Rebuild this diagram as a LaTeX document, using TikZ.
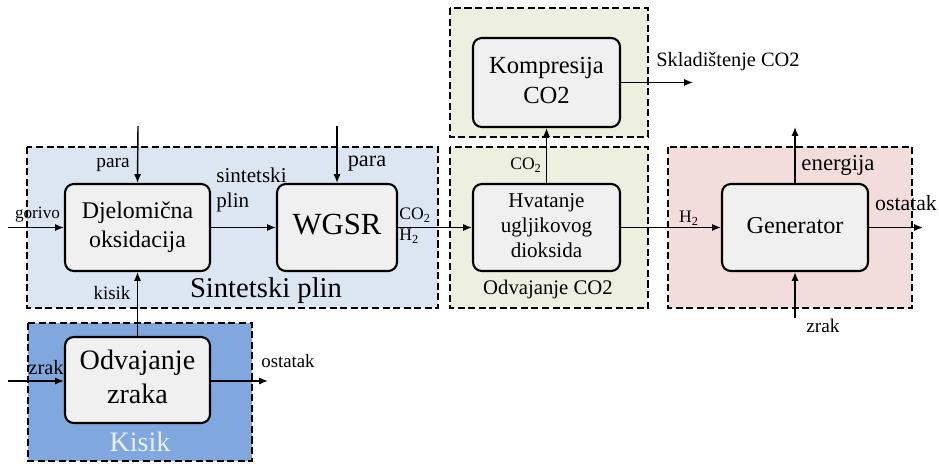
\documentclass[tikz,border=0pt]{standalone}
\usepackage{graphicx}
\usepackage{fontspec}
\setmainfont{Liberation Serif}
\usetikzlibrary{positioning,calc,arrows.meta}
\definecolor{sinfill}{RGB}{220,230,242}
\definecolor{kisfill}{RGB}{128,168,222}
\definecolor{co2fill}{RGB}{238,240,223}
\definecolor{genfill}{RGB}{243,220,220}
\definecolor{blokfill}{RGB}{240,240,240}
\definecolor{kisText}{RGB}{232,240,250}

% tekst jedne velicine, uvecan
\newcommand{\tekst}[3][c]{\scalebox{#2}{\begin{tabular}{@{}#1@{}}#3\end{tabular}}}

\tikzset{
  blok/.style={draw, line width=1.2pt, rounded corners=5pt, fill=blokfill, align=center, inner sep=0pt},
  grupa/.style={draw, line width=1.2pt, dash pattern=on 4pt off 2pt},
  tok/.style={-{Latex[length=5pt,width=4pt]}, line width=0.8pt},
  oznaka/.style={inner sep=0pt}
}

\begin{document}
\begin{tikzpicture}[x=0.02cm,y=-0.02cm]
  \useasboundingbox (0,0) rectangle (939,463);
  % grupe
  \draw[grupa, fill=sinfill] (27,147) rectangle (438,308);
  \draw[grupa, fill=kisfill] (28,323) rectangle (252,461);
  \draw[grupa, fill=co2fill] (450,8) rectangle (648,137);
  \draw[grupa, fill=co2fill] (450,147) rectangle (648,308);
  \draw[grupa, fill=genfill] (668,147) rectangle (912,308);

  % blokovi
  \node[blok, minimum width=2.9cm, minimum height=1.74cm] (djel) at (137.5,227.5) {\tekst{1.36}{Djelomična\\oksidacija}};
  \node[blok, minimum width=2.4cm, minimum height=1.74cm] (wgsr) at (337,227.5) {\tekst{1.75}{WGSR}};
  \node[blok, minimum width=2.94cm, minimum height=1.78cm] (komp) at (546.5,82.5) {\tekst{1.4}{Kompresija\\CO2}};
  \node[blok, minimum width=2.94cm, minimum height=1.74cm] (hvat) at (546.5,227.5) {\tekst{1.2}{Hvatanje\\ugljikovog\\dioksida}};
  \node[blok, minimum width=2.92cm, minimum height=1.74cm] (gen) at (795,227.5) {\tekst{1.38}{Generator}};
  \node[blok, minimum width=2.9cm, minimum height=1.72cm] (odv) at (137.5,380) {\tekst{1.6}{Odvajanje\\zraka}};

  % slobodni krajevi
  \coordinate (gorivoL) at (8,227.5);
  \coordinate (paraA) at (138,126);
  \coordinate (paraB) at (337,126);
  \coordinate (zrakL) at (8,381);
  \coordinate (ostL) at (268,381);
  \coordinate (sklad) at (693,82.5);
  \coordinate (energ) at (795,127);
  \coordinate (ostR) at (923,227.5);
  \coordinate (zrakR) at (795,318);

  % tokovi
  \draw[tok] (gorivoL) -- (djel.west);
  \draw[tok] (paraA) -- (djel.north);
  \draw[tok] (paraB) -- (wgsr.north);
  \draw[tok] (djel.east) -- (wgsr.west);
  \draw[tok] (wgsr.east) -- (hvat.west);
  \draw[tok] (odv.north) -- (djel.south);
  \draw[tok] (zrakL) -- (zrakL -| odv.west);
  \draw[tok] (ostL -| odv.east) -- (ostL);
  \draw[tok] (hvat.north) -- (komp.south);
  \draw[tok] (komp.east) -- (sklad);
  \draw[tok] (hvat.east) -- (gen.west);
  \draw[tok] (gen.north) -- (energ);
  \draw[tok] (gen.east) -- (ostR);
  \draw[tok] (zrakR) -- (gen.south);

  % oznake
  \node[oznaka] (tGorivo) at (37.5,214) {\tekst{0.98}{gorivo}};
  \node[oznaka] (tParaA) at (113,163) {\tekst{1.1}{para}};
  \node[oznaka] (tParaB) at (367,161) {\tekst{1.27}{para}};
  \node[oznaka, anchor=west] (tSin) at (216,190) {\tekst[l]{1.2}{sintetski\\plin}};
  \node[oznaka, anchor=west] (tCOa) at (399,215) {CO\textsubscript{2}};
  \node[oznaka, anchor=west] (tHa) at (399,236) {H\textsubscript{2}};
  \node[oznaka] (tKisik) at (112,295) {\tekst{1.08}{kisik}};
  \node[oznaka] (tSinPlin) at (266,291) {\tekst{1.63}{Sintetski plin}};
  \node[oznaka] (tZrakL) at (46,370) {\tekst{1.16}{zrak}};
  \node[oznaka] (tOstL) at (288,363) {\tekst{1.07}{ostatak}};
  \node[oznaka, text=kisText] (tKisikV) at (140,445) {\tekst{1.6}{Kisik}};
  \node[oznaka] (tSklad) at (728,62) {\tekst{1.16}{Skladištenje CO2}};
  \node[oznaka] (tCOb) at (526,165) {CO\textsubscript{2}};
  \node[oznaka] (tOdvCO2) at (548,290) {\tekst{1.18}{Odvajanje CO2}};
  \node[oznaka] (tHb) at (689,218) {H\textsubscript{2}};
  \node[oznaka] (tEnerg) at (838,165) {\tekst{1.3}{energija}};
  \node[oznaka] (tOstR) at (906,205) {\tekst{1.24}{ostatak}};
  \node[oznaka] (tZrakR) at (823,328) {\tekst{1.1}{zrak}};
\end{tikzpicture}
\end{document}
